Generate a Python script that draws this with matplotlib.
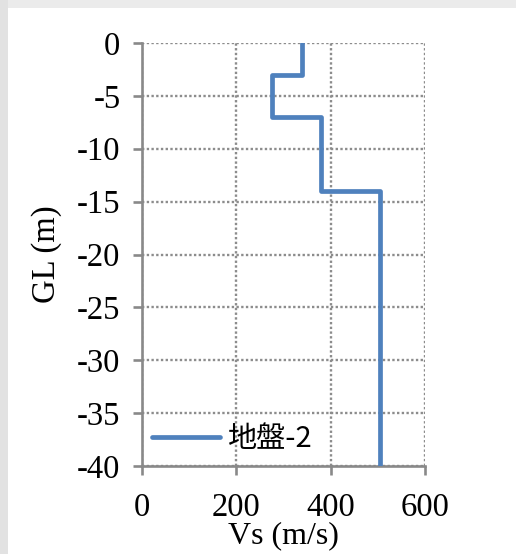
import numpy as np
import matplotlib
matplotlib.use("Agg")
import matplotlib.pyplot as plt
from matplotlib.patches import Rectangle

plt.rcParams['font.family'] = ['Liberation Serif', 'DejaVu Serif']
plt.rcParams['axes.unicode_minus'] = False

# 層境界深さ (GL m) と各層の Vs (m/s)
depth_bounds = [0, -3, -7, -14, -40]
vs_layers = [340, 275, 380, 505]
series_name = '地盤-2'

x_ticks = [0, 200, 400, 600]
y_ticks = [0, -5, -10, -15, -20, -25, -30, -35, -40]

# 階段状プロファイル用の座標
xs = np.repeat(vs_layers, 2)
ys = np.column_stack([depth_bounds[:-1], depth_bounds[1:]]).ravel()

W, H = 516, 554
fig = plt.figure(figsize=(W / 100, H / 100), dpi=100)
fig.patch.set_facecolor('white')
# 外枠の灰色帯
fig.patches.append(Rectangle((0, 1 - 8 / H), 1, 8 / H, transform=fig.transFigure,
                             facecolor='#ebebeb', edgecolor='none', zorder=0))
fig.patches.append(Rectangle((0, 0), 8 / W, 1, transform=fig.transFigure,
                             facecolor='#e2e2e2', edgecolor='none', zorder=0))

ax = fig.add_axes([142 / W, 1 - 466 / H, (425 - 142) / W, (466 - 43) / H])
ax.plot(xs, ys, color='#4f81bd', linewidth=3.4, solid_capstyle='round',
        solid_joinstyle='round', label=series_name, zorder=3)

ax.set_xlim(0, 600)
ax.set_ylim(-40, 0)
ax.set_xticks(x_ticks)
ax.set_yticks(y_ticks)
ax.grid(True, color='#8c8c8c', linestyle=(0, (1, 1)), linewidth=1.7)
for s in ['top', 'right']:
    ax.spines[s].set_visible(False)
for s in ['left', 'bottom']:
    ax.spines[s].set_color('#898989')
    ax.spines[s].set_linewidth(1.9)
ax.tick_params(axis='both', direction='out', length=6.5, width=1.9,
               color='#898989', labelsize=23.5)
ax.tick_params(axis='x', pad=12.5)
ax.tick_params(axis='y', pad=9)

ax.set_xlabel('Vs (m/s)', fontsize=23, labelpad=-1.5)
ax.set_ylabel('GL (m)', fontsize=23.5, labelpad=11)

leg = ax.legend(loc='center left', bbox_to_anchor=(0.035, 0.064), frameon=False,
                handlelength=2.33, handletextpad=0.24, borderpad=0,
                borderaxespad=0,
                prop={'family': ['Noto Sans CJK JP', 'DejaVu Sans'], 'size': 21})

fig.savefig('out.png', dpi=100)
